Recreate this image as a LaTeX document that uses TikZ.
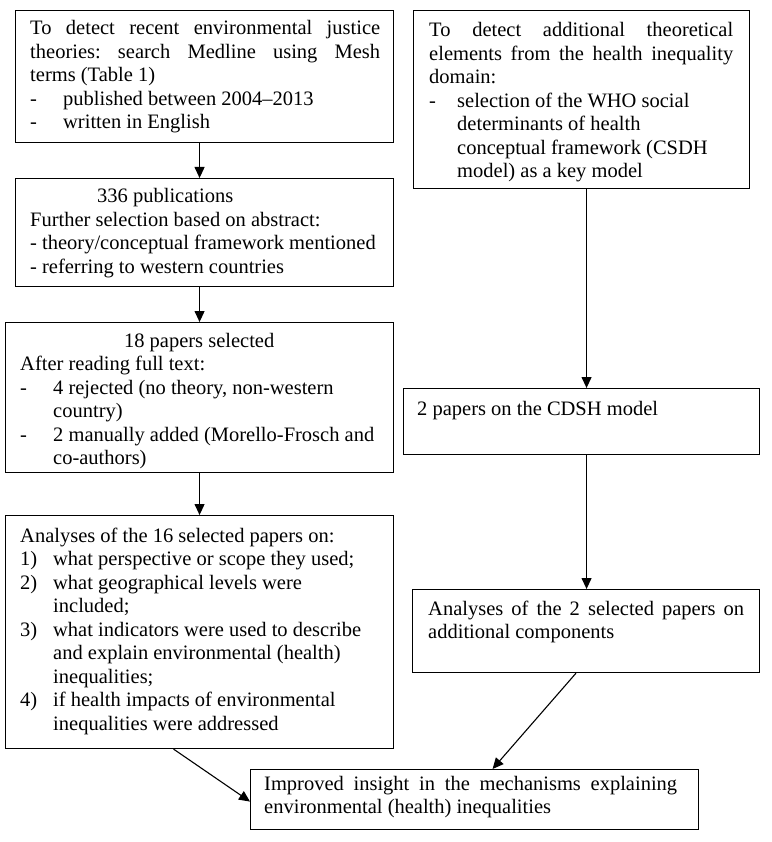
\documentclass[tikz,border=0pt]{standalone}
\usepackage{fontspec}
\setmainfont{Liberation Serif}
\usetikzlibrary{arrows.meta}
\frenchspacing
\newcommand\itm[3][33pt]{\par\hangindent=#1\hangafter=1\noindent\makebox[#1][l]{#2}#3}
\newcommand\tb[2]{\parbox[t]{#1}{\frenchspacing\fontsize{20.5}{23.5}\selectfont #2}}
\begin{document}
\begin{tikzpicture}[x=1pt,y=-1pt,
  box/.style={draw, line width=1.1pt, inner sep=0pt, anchor=north west},
  txt/.style={anchor=base west, inner sep=0pt},
  arr/.style={line width=1.1pt, -{Triangle[length=11pt,width=10pt]}},
]
\useasboundingbox[fill=white] (0,0) rectangle (771,842);
% boxes
\node[box, minimum width=378pt, minimum height=132pt] (A) at (15,10) {};
\node[box, minimum width=378pt, minimum height=108pt] (B) at (15,178) {};
\node[box, minimum width=388pt, minimum height=150pt] (C) at (5,322) {};
\node[box, minimum width=388pt, minimum height=233pt] (D) at (5,515) {};
\node[box, minimum width=336pt, minimum height=178pt] (E1) at (413,10) {};
\node[box, minimum width=356pt, minimum height=66pt] (E2) at (403,388) {};
\node[box, minimum width=347pt, minimum height=83pt] (E3) at (412,589) {};
\node[box, minimum width=448pt, minimum height=60pt] (F) at (250,769) {};
% texts
\node[txt] (tA) at (30,35) {\tb{350pt}{To detect recent environmental justice\linebreak theories: search Medline using Mesh\linebreak terms (Table 1)\itm{-}{published between 2004--2013}\itm{-}{written in English}}};
\node[txt] (tB) at (30,203) {\tb{350pt}{\hspace*{67pt}336 publications\\Further selection based on abstract:\\- theory/conceptual framework mentioned\\- referring to western countries}};
\node[txt] (tC) at (20,347) {\tb{360pt}{\makebox[358pt]{18 papers selected}\par\noindent After reading full text:\itm{-}{4 rejected (no theory, non-western\\country)}\itm{-}{2 manually added (Morello-Frosch and\\co-authors)}}};
\node[txt] (tD) at (20,542) {\tb{360pt}{Analyses of the 16 selected papers on:\itm{1)}{what perspective or scope they used;}\itm{2)}{what geographical levels were\\included;}\itm{3)}{what indicators were used to describe\\and explain environmental (health)\\inequalities;}\itm{4)}{if health impacts of environmental\\inequalities were addressed}}};
\node[txt] (tE1) at (429,37) {\tb{304pt}{To detect additional theoretical\linebreak elements from the health inequality\linebreak domain:\itm[28pt]{-}{selection of the WHO social\\determinants of health\\conceptual framework (CSDH\\model) as a key model}}};
\node[txt] (tE2) at (417,415) {\tb{330pt}{2 papers on the CDSH model}};
\node[txt] (tE3) at (428,615) {\tb{316pt}{Analyses of the 2 selected papers on\linebreak additional components}};
\node[txt] (tF) at (264,790) {\tb{413pt}{Improved insight in the mechanisms explaining\linebreak environmental (health) inequalities}};
% connectors
\draw[arr] ([xshift=-5pt]A.south) -- ([xshift=-5pt]B.north);
\draw[arr] ([xshift=-5pt]B.south) -- (C.north);
\draw[arr] (C.south) -- (D.north);
\draw[arr] ([xshift=5pt]E1.south) -- ([xshift=5pt]E2.north);
\draw[arr] ([xshift=5pt]E2.south) -- ([xshift=0.5pt]E3.north);
\draw[arr] ([xshift=-26pt]D.south) -- ([yshift=-2pt]F.west);
\draw[arr] ([xshift=-10pt]E3.south) -- ([xshift=18pt]F.north);
\end{tikzpicture}
\end{document}
